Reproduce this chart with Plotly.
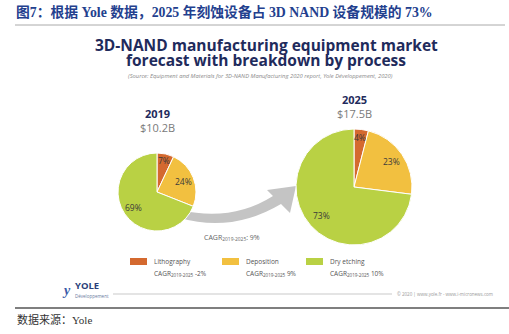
import plotly.graph_objects as go
import math

# ---- data ----
processes = ["Lithography", "Deposition", "Dry etching"]
share_2019 = [7, 24, 69]
share_2025 = [4, 23, 73]
years = ["2019", "2025"]
market_size = ["$10.2B", "$17.5B"]
cagr_by_process = ["-2%", "9%", "10%"]
cagr_total = "9%"
colors = ["#d4692f", "#f2c040", "#b9d144"]

W, H = 509, 334
fig = go.Figure()

# overlay axis in pixel coordinates for text / shapes
fig.update_xaxes(range=[0, W], visible=False, fixedrange=True)
fig.update_yaxes(range=[H, 0], visible=False, fixedrange=True)
fig.add_trace(go.Scatter(x=[0], y=[0], mode="markers", marker=dict(opacity=0),
                         showlegend=False, hoverinfo="skip"))

pies = [
    dict(cx=157, cy=192, r=39, vals=share_2019, rf=[0.84, 0.72, 0.72]),
    dict(cx=354, cy=187, r=58, vals=share_2025, rf=[0.86, 0.78, 0.75]),
]
label_font = dict(family="Open Sans, Liberation Sans, sans-serif", size=8.5, color="#3a3a3a")
for p in pies:
    cx, cy, r = p["cx"], p["cy"], p["r"]
    fig.add_trace(go.Pie(
        values=p["vals"], labels=processes, sort=False, direction="clockwise",
        rotation=0, marker=dict(colors=colors, line=dict(color="white", width=1)),
        textinfo="none", showlegend=False, hoverinfo="label+percent",
        domain=dict(x=[(cx - r) / W, (cx + r) / W], y=[1 - (cy + r) / H, 1 - (cy - r) / H]),
    ))
    cum = 0
    for v, rf in zip(p["vals"], p["rf"]):
        th = math.radians(90 - 360 * (cum + v / 2) / 100)
        cum += v
        fig.add_annotation(x=cx + rf * r * math.cos(th), y=cy - rf * r * math.sin(th),
                           text=f"{v}%", showarrow=False, font=label_font)

navy = "#1f2b5c"
# year + size labels
for (x, y), yr, sz in zip([(157, 113), (354, 99)], years, market_size):
    fig.add_annotation(x=x, y=y, text=f"<b>{yr}</b>", showarrow=False,
                       font=dict(family="Open Sans, sans-serif", size=11, color=navy))
    fig.add_annotation(x=x, y=y + 14, text=sz, showarrow=False,
                       font=dict(family="Open Sans, sans-serif", size=11, color="#7a7a7a"))

# curved arrow
fig.add_shape(type="path", layer="below",
              path="M 180 210 Q 232 222 273 196 L 267 190 L 296 186 L 290 213 L 281 204 Q 232 233 180 218 Z",
              fillcolor="#c4c4c4", line=dict(width=0))
fig.add_annotation(x=232, y=237, text=f"CAGR<sub>2019-2025</sub>: {cagr_total}", showarrow=False,
                   font=dict(family="Open Sans, sans-serif", size=7, color="#666"))

# headline texts
fig.add_annotation(x=14, y=12, xanchor="left", showarrow=False,
                   text="<b>图7：根据 Yole 数据，2025 年刻蚀设备占 3D NAND 设备规模的 73%</b>",
                   font=dict(family="Liberation Serif, Noto Sans CJK SC, serif", size=13.8, color="#23408e"))
fig.add_shape(type="line", x0=15, x1=505, y0=25, y1=25, line=dict(color="#aaaaaa", width=1))
fig.add_annotation(x=266, y=44.5, showarrow=False,
                   text="<b>3D-NAND manufacturing equipment market</b>",
                   font=dict(family="Open Sans, sans-serif", size=15.5, color=navy))
fig.add_annotation(x=266, y=60, showarrow=False,
                   text="<b>forecast with breakdown by process</b>",
                   font=dict(family="Open Sans, sans-serif", size=15.5, color=navy))
fig.add_annotation(x=260, y=75.5, showarrow=False,
                   text="<i>(Source: Equipment and Materials for 3D-NAND Manufacturing 2020 report, Yole Développement, 2020)</i>",
                   font=dict(family="Open Sans, sans-serif", size=5.8, color="#8a8a8a"))

# legend
leg_x = [130, 222, 306]
for x, name, c, g in zip(leg_x, processes, colors, cagr_by_process):
    fig.add_shape(type="rect", x0=x, x1=x + 17, y0=258, y1=265, fillcolor=c, line=dict(width=0))
    fig.add_annotation(x=x + 22, y=261.5, xanchor="left", text=name, showarrow=False,
                       font=dict(family="Open Sans, sans-serif", size=6.5, color="#555"))
    fig.add_annotation(x=x + 22, y=273, xanchor="left", text=f"CAGR<sub>2019-2025</sub> {g}",
                       showarrow=False, font=dict(family="Open Sans, sans-serif", size=6.5, color="#555"))

# logo + footer
fig.add_annotation(x=66, y=290, text="<i><b>y</b></i>", showarrow=False,
                   font=dict(family="Liberation Serif, serif", size=14, color="#3a5aa8"))
fig.add_annotation(x=73, y=285, xanchor="left", text="<b>YOLE</b>", showarrow=False,
                   font=dict(family="Open Sans, sans-serif", size=9.5, color="#2a3f7a"))
fig.add_annotation(x=73, y=296, xanchor="left", text="Développement", showarrow=False,
                   font=dict(family="Open Sans, sans-serif", size=4.5, color="#6a7aa0"))
fig.add_shape(type="line", x0=113, x1=392, y0=294, y1=294, line=dict(color="#bbbbbb", width=0.8))
fig.add_annotation(x=395, y=294, xanchor="left", showarrow=False,
                   text="© 2020 | www.yole.fr - www.i-micronews.com",
                   font=dict(family="Open Sans, sans-serif", size=4.5, color="#999"))
fig.add_shape(type="line", x0=15, x1=509, y0=308, y1=308, line=dict(color="#555555", width=1.3))
fig.add_annotation(x=15, y=319, xanchor="left", text="数据来源：Yole", showarrow=False,
                   font=dict(family="Liberation Serif, Noto Sans CJK SC, serif", size=11, color="#333"))

fig.update_layout(width=W, height=H, margin=dict(l=0, r=0, t=0, b=0),
                  paper_bgcolor="white", plot_bgcolor="white", showlegend=False)
fig.write_html("out.html")
